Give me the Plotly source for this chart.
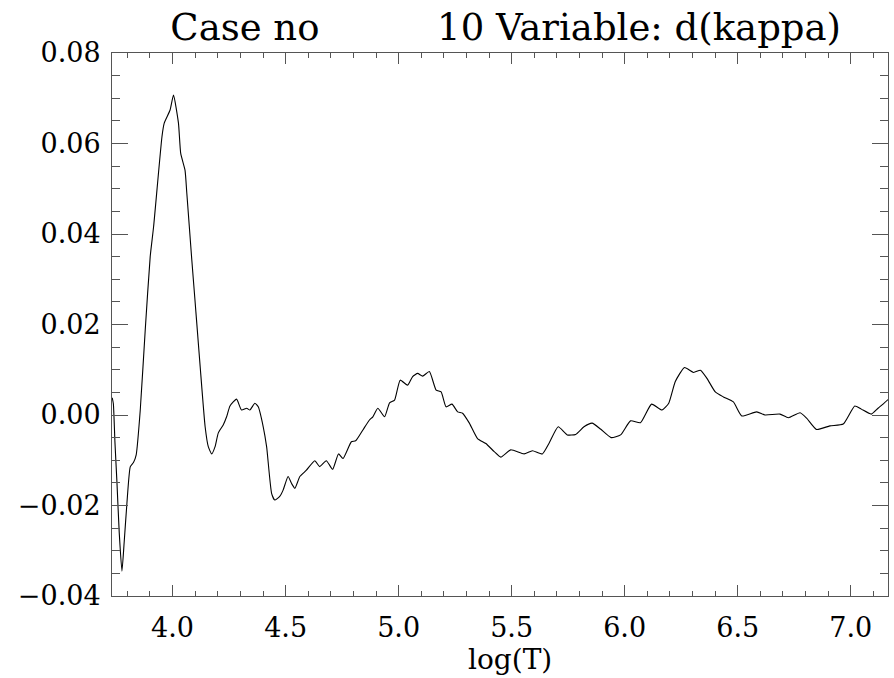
import plotly.graph_objects as go

# ---- data ----
log_t = [3.733, 3.738, 3.745, 3.754, 3.764, 3.776, 3.786, 3.798, 3.813, 3.827,
         3.839, 3.857, 3.879, 3.901, 3.916, 3.953, 3.963, 3.989, 4.004, 4.026,
         4.036, 4.055, 4.063, 4.085, 4.099, 4.107, 4.122, 4.144, 4.158, 4.173,
         4.188, 4.202, 4.224, 4.239, 4.254, 4.283, 4.305, 4.328, 4.342, 4.364,
         4.379, 4.401, 4.416, 4.438, 4.452, 4.474, 4.489, 4.511, 4.526, 4.541,
         4.563, 4.592, 4.629, 4.651, 4.680, 4.708, 4.734, 4.754, 4.791, 4.810,
         4.842, 4.871, 4.886, 4.908, 4.938, 4.960, 4.982, 5.007, 5.040, 5.062,
         5.084, 5.106, 5.136, 5.166, 5.188, 5.210, 5.236, 5.261, 5.283, 5.313,
         5.349, 5.386, 5.423, 5.452, 5.496, 5.555, 5.592, 5.636, 5.665, 5.706,
         5.746, 5.783, 5.820, 5.856, 5.893, 5.940, 5.982, 6.026, 6.070, 6.119,
         6.165, 6.195, 6.224, 6.265, 6.305, 6.335, 6.364, 6.401, 6.437, 6.481,
         6.518, 6.584, 6.621, 6.687, 6.724, 6.776, 6.805, 6.849, 6.908, 6.967,
         7.018, 7.047, 7.091, 7.121, 7.143, 7.165]
d_kappa = [0.0038, 0.0025, -0.0060, -0.0150, -0.0260, -0.0345, -0.0280, -0.0195, -0.0114, -0.0105,
           -0.0088, 0.0011, 0.0188, 0.0350, 0.0416, 0.0615, 0.0645, 0.0674, 0.0707, 0.0645,
           0.0578, 0.0541, 0.0490, 0.0343, 0.0254, 0.0203, 0.0107, -0.0026, -0.0070, -0.0086,
           -0.0070, -0.0040, -0.0022, -0.0004, 0.0020, 0.0035, 0.0011, 0.0015, 0.0011, 0.0026,
           0.0018, -0.0026, -0.0070, -0.0173, -0.0188, -0.0180, -0.0166, -0.0136, -0.0151, -0.0162,
           -0.0136, -0.0122, -0.0101, -0.0114, -0.0101, -0.0120, -0.0086, -0.0096, -0.0059, -0.0057,
           -0.0033, -0.0011, -0.0004, 0.0015, -0.0004, 0.0027, 0.0033, 0.0077, 0.0066, 0.0085,
           0.0092, 0.0086, 0.0096, 0.0055, 0.0051, 0.0018, 0.0024, 0.0007, 0.0004, -0.0018,
           -0.0052, -0.0063, -0.0081, -0.0093, -0.0077, -0.0086, -0.0079, -0.0086, -0.0063, -0.0026,
           -0.0044, -0.0043, -0.0026, -0.0018, -0.0031, -0.0050, -0.0044, -0.0013, -0.0017, 0.0024,
           0.0011, 0.0026, 0.0074, 0.0105, 0.0094, 0.0099, 0.0081, 0.0051, 0.0040, 0.0029,
           -0.0002, 0.0007, 0.0000, 0.0002, -0.0006, 0.0005, -0.0007, -0.0032, -0.0024, -0.0020,
           0.0020, 0.0013, 0.0002, 0.0015, 0.0024, 0.0034]

x_tick_vals = [4.0, 4.5, 5.0, 5.5, 6.0, 6.5, 7.0]
x_tick_text = ["4.0", "4.5", "5.0", "5.5", "6.0", "6.5", "7.0"]
y_tick_vals = [-0.04, -0.02, 0.0, 0.02, 0.04, 0.06, 0.08]
y_tick_text = ["\u22120.04", "\u22120.02", "0.00", "0.02", "0.04", "0.06", "0.08"]

title_text = "Case no" + "\u00a0" * 10 + "10 Variable: d(kappa)"
x_title = "log(T)"

FONT = "DejaVu Serif"
AX = "#555555"

fig = go.Figure()
fig.add_trace(go.Scatter(x=log_t, y=d_kappa, mode="lines",
                         line=dict(color="black", width=1.1, shape="spline",
                                   smoothing=0.5),
                         showlegend=False))

fig.update_layout(
    width=894, height=678,
    margin=dict(l=112, r=6, t=53, b=82),
    paper_bgcolor="white", plot_bgcolor="white",
    font=dict(family=FONT, size=27, color="black"),
    title=dict(text=title_text, x=505.7 / 894, xanchor="center",
               y=1 - 27 / 678, yanchor="middle",
               font=dict(family=FONT, size=37, color="black")),
    xaxis=dict(range=[3.732, 7.165], tickmode="array", tickvals=x_tick_vals,
               ticktext=x_tick_text, ticks="inside", ticklen=11, tickwidth=1,
               tickcolor=AX, showline=True, linecolor=AX, linewidth=1,
               mirror="allticks", showgrid=False, zeroline=False,
               ticklabelstandoff=8,
               minor=dict(dtick=0.1, tick0=4.0, ticks="inside", ticklen=5,
                          tickcolor=AX, showgrid=False)),
    yaxis=dict(range=[-0.04, 0.08], tickmode="array", tickvals=y_tick_vals,
               ticktext=y_tick_text, ticks="inside", ticklen=16, tickwidth=1,
               tickcolor=AX, showline=True, linecolor=AX, linewidth=1,
               mirror="allticks", showgrid=False, zeroline=False,
               ticklabelstandoff=5,
               minor=dict(dtick=0.005, tick0=0.0, ticks="inside", ticklen=8,
                          tickcolor=AX, showgrid=False)),
    annotations=[dict(text=x_title, xref="paper", yref="paper",
                      x=(510 - 112) / 776, y=-(659 - 596) / 543,
                      xanchor="center", yanchor="middle", showarrow=False,
                      font=dict(family=FONT, size=28, color="black"))],
)

fig.write_html("out.html")
